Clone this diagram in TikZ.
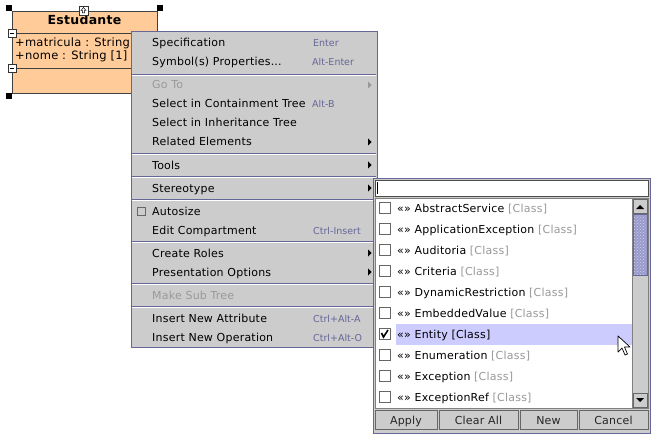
\documentclass[tikz,border=0pt]{standalone}
\usepackage{fontspec}
\setmainfont{DejaVu Sans}
\newfontfamily\uifont[LetterSpace=2]{DejaVu Sans}
\usetikzlibrary{positioning,patterns}
\definecolor{menugray}{HTML}{CCCCCC}
\definecolor{menuborder}{HTML}{666699}
\definecolor{shortcutcol}{HTML}{666699}
\definecolor{disabledcol}{HTML}{999999}
\definecolor{classfill}{HTML}{FFCC99}
\definecolor{selcol}{HTML}{CCCCFF}
\definecolor{thumbcol}{HTML}{9999CC}
\tikzset{
    classbox/.style={draw=black!75, fill=classfill, line width=0.8pt},
    handle/.style={fill=black},
    minusbox/.style={draw=black!80, fill=white, line width=0.6pt},
    classtitle/.style={anchor=base, yshift=-4pt, inner sep=0pt, font=\uifont\fontsize{12.5}{14}\selectfont\bfseries},
    attr/.style={anchor=base west, yshift=-4pt, inner sep=0pt, font=\uifont\fontsize{11.5}{13}\selectfont},
    menubox/.style={draw=menuborder, fill=menugray, line width=0.8pt},
    menuitem/.style={anchor=base west, yshift=-4pt, inner sep=0pt, font=\uifont\fontsize{11}{12}\selectfont},
    disabled/.style={menuitem, text=disabledcol},
    shortcut/.style={anchor=base west, yshift=-4pt, inner sep=0pt, text=shortcutcol, font=\fontsize{9.5}{11}\selectfont},
    sepdark/.style={draw=menuborder, line width=0.8pt},
    seplight/.style={draw=white, line width=0.8pt},
    subarrow/.style={fill=black},
    listitem/.style={anchor=base west, yshift=-4pt, inner sep=0pt, font=\uifont\fontsize{11}{12}\selectfont},
    chkbox/.style={draw=black!60, fill=white, line width=0.7pt},
    mybutton/.style={draw=black!60, fill=menugray, line width=0.7pt},
    buttonlabel/.style={anchor=base, yshift=-4pt, inner sep=0pt, text=black!85, font=\uifont\fontsize{11}{12}\selectfont}
}
\newcommand{\cls}{\textcolor{disabledcol}{[Class]}}
\begin{document}
\begin{tikzpicture}[x=1pt,y=-1pt]
\useasboundingbox (0,0) rectangle (656,441);

% class box
\draw[classbox] (12,11) rectangle (157,93);
\draw[classbox] (12,33) -- (157,33);
\draw[classbox] (12,68) -- (157,68);
\node[classtitle] (title) at (84.5,21) {Estudante};
\node[attr] (matricula) at (15,43) {+matricula : String};
\node[attr] (nome) at (15,56) {+nome : String [1]};
\fill[handle] (6,5) rectangle (12,11);
\fill[handle] (157,5) rectangle (163,11);
\fill[handle] (6,93) rectangle (12,99);
\draw[minusbox] (79,6) rectangle (88,15);
\draw[line width=0.5pt] (83.5,7.5) -- (86,10.5) -- (84.6,10.5) -- (84.6,13) -- (82.4,13) -- (82.4,10.5) -- (81,10.5) -- cycle;
\draw[minusbox] (8,29) rectangle (16,37);
\draw[line width=0.7pt] (10,33) -- (14,33);
\draw[minusbox] (8,64) rectangle (16,72);
\draw[line width=0.7pt] (10,68) -- (14,68);

% context menu
\draw[menubox] (131,31) rectangle (377,347);
\node[menuitem] (spec) at (152,43) {Specification};
\node[shortcut] (specKey) at (313,43) {Enter};
\node[menuitem] (symprops) at (152,62) {Symbol(s) Properties...};
\node[shortcut] (symKey) at (312,62) {Alt-Enter};
\draw[sepdark] (132,74) -- (376,74);
\draw[seplight] (132,75) -- (376,75);
\node[disabled] (goto) at (152,85) {Go To};
\node[menuitem] (containment) at (152,104) {Select in Containment Tree};
\node[shortcut] (containKey) at (312,104) {Alt-B};
\node[menuitem] (inheritance) at (152,123) {Select in Inheritance Tree};
\node[menuitem] (related) at (152,142) {Related Elements};
\draw[sepdark] (132,153) -- (376,153);
\draw[seplight] (132,154) -- (376,154);
\node[menuitem] (tools) at (152,165) {Tools};
\draw[sepdark] (132,176) -- (376,176);
\draw[seplight] (132,177) -- (376,177);
\node[menuitem] (stereotype) at (152,188) {Stereotype};
\draw[sepdark] (132,199) -- (376,199);
\draw[seplight] (132,200) -- (376,200);
\draw[draw=black!60, fill=menugray, line width=0.6pt] (137,207) rectangle (145,215);
\node[menuitem] (autosize) at (152,211) {Autosize};
\node[menuitem] (editcomp) at (152,230) {Edit Compartment};
\node[shortcut] (editKey) at (313,230) {Ctrl-Insert};
\draw[sepdark] (132,241) -- (376,241);
\draw[seplight] (132,242) -- (376,242);
\node[menuitem] (roles) at (152,253) {Create Roles};
\node[menuitem] (presentation) at (152,272) {Presentation Options};
\draw[sepdark] (132,283) -- (376,283);
\draw[seplight] (132,284) -- (376,284);
\node[disabled] (subtree) at (152,295) {Make Sub Tree};
\draw[sepdark] (132,306) -- (376,306);
\draw[seplight] (132,307) -- (376,307);
\node[menuitem] (newattr) at (152,318) {Insert New Attribute};
\node[shortcut] (attrKey) at (313,318) {Ctrl+Alt-A};
\node[menuitem] (newop) at (152,337) {Insert New Operation};
\node[shortcut] (opKey) at (313,337) {Ctrl+Alt-O};

\fill[disabledcol] (368,81.5) -- (371.5,85) -- (368,88.5) -- cycle;
\fill[subarrow] (368,138.5) -- (371.5,142) -- (368,145.5) -- cycle;
\fill[subarrow] (368,161.5) -- (371.5,165) -- (368,168.5) -- cycle;
\fill[subarrow] (368,184.5) -- (371.5,188) -- (368,191.5) -- cycle;
\fill[subarrow] (368,249.5) -- (371.5,253) -- (368,256.5) -- cycle;
\fill[subarrow] (368,268.5) -- (371.5,272) -- (368,275.5) -- cycle;

% stereotype popup
\draw[menubox] (373,178) rectangle (650,433);
\draw[draw=black!70, fill=white, line width=0.7pt] (375,180) rectangle (648,196);
\draw[line width=0.8pt] (377.5,182) -- (377.5,194);
\draw[draw=black!50, fill=white, line width=0.7pt] (375,198) rectangle (648,408);
\fill[selcol] (396,324) rectangle (632,345);

\draw[chkbox] (379,202.5) rectangle (390,213.5);
\node[listitem] (abstractservice) at (397,208) {«» AbstractService \cls};
\draw[chkbox] (379,223.5) rectangle (390,234.5);
\node[listitem] (appexception) at (397,229) {«» ApplicationException \cls};
\draw[chkbox] (379,244.5) rectangle (390,255.5);
\node[listitem] (auditoria) at (397,250) {«» Auditoria \cls};
\draw[chkbox] (379,265.5) rectangle (390,276.5);
\node[listitem] (criteria) at (397,271) {«» Criteria \cls};
\draw[chkbox] (379,286.5) rectangle (390,297.5);
\node[listitem] (dynrestriction) at (397,292) {«» DynamicRestriction \cls};
\draw[chkbox] (379,307.5) rectangle (390,318.5);
\node[listitem] (embedded) at (397,313) {«» EmbeddedValue \cls};
\draw[chkbox] (379,328.5) rectangle (390,339.5);
\draw[line width=1.6pt] (381.5,333) -- (383.5,337) -- (388,330);
\node[listitem] (entity) at (397,334) {«» Entity [Class]};
\draw[chkbox] (379,349.5) rectangle (390,360.5);
\node[listitem] (enumeration) at (397,355) {«» Enumeration \cls};
\draw[chkbox] (379,370.5) rectangle (390,381.5);
\node[listitem] (exception) at (397,376) {«» Exception \cls};
\draw[chkbox] (379,391.5) rectangle (390,402.5);
\node[listitem] (exceptionref) at (397,397) {«» ExceptionRef \cls};

% scrollbar
\draw[draw=black!50, fill=menugray, line width=0.7pt] (632,198) rectangle (648,408);
\draw[mybutton] (633,199) rectangle (647,213);
\fill (636,209) -- (640,205) -- (644,209) -- cycle;
\draw[draw=menuborder, fill=thumbcol, line width=0.7pt] (633,214) rectangle (647,275);
\fill[pattern=crosshatch dots, pattern color=white!60!thumbcol] (634,215) rectangle (646,274);
\draw[mybutton] (633,393) rectangle (647,407);
\fill (636,398) -- (644,398) -- (640,402) -- cycle;

% cursor
\draw[fill=white, line width=0.7pt, line join=round] (618,336) -- (618,352) -- (622,348) -- (625,355) -- (627.5,354) -- (624.5,347) -- (630,347) -- cycle;

% buttons
\draw[mybutton] (375,410) rectangle (437,429);
\node[buttonlabel] (apply) at (406,420) {Apply};
\draw[mybutton] (439,410) rectangle (518,429);
\node[buttonlabel] (clearall) at (478.5,420) {Clear All};
\draw[mybutton] (520,410) rectangle (577,429);
\node[buttonlabel] (new) at (548.5,420) {New};
\draw[mybutton] (579,410) rectangle (648,429);
\node[buttonlabel] (cancel) at (613.5,420) {Cancel};
\end{tikzpicture}
\end{document}
